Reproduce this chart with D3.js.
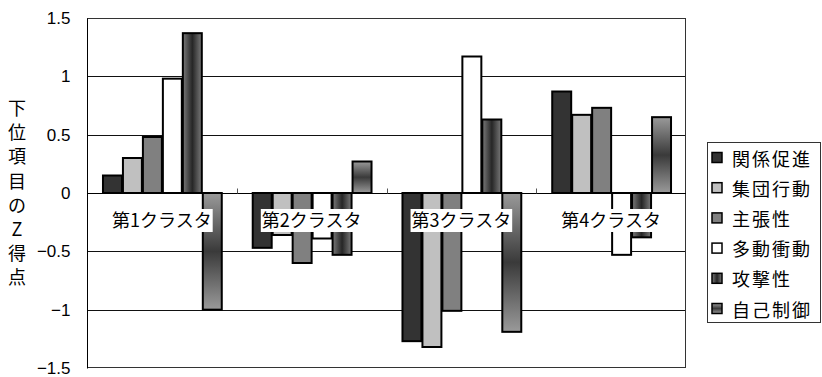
<!DOCTYPE html>
<html>
<head>
<meta charset="utf-8">
<script src="https://cdn.jsdelivr.net/npm/d3@7/dist/d3.min.js"></script>
<style>
  html, body { margin: 0; padding: 0; background: #fff; }
  svg { display: block; }
  text { font-family: "Noto Sans CJK JP", "Noto Sans", sans-serif; fill: #000; }
</style>
</head>
<body>
<svg id="chart" width="822" height="377"></svg>
<script>
// Clusters on the category axis
const clusters = ["第1クラスタ", "第2クラスタ", "第3クラスタ", "第4クラスタ"];
// Sub-scale names (legend order)
const seriesNames = ["関係促進", "集団行動", "主張性", "多動衝動", "攻撃性", "自己制御"];
// Mean Z score for each sub-scale, one array per sub-scale, by cluster
const relation   = [0.15, -0.47, -1.27, 0.87];
const groupAct   = [0.30, -0.36, -1.32, 0.67];
const assertive  = [0.48, -0.60, -1.01, 0.73];
const hyperact   = [0.98, -0.39,  1.17, -0.53];
const aggression = [1.37, -0.53,  0.63, -0.38];
const selfCtrl   = [-1.00, 0.27, -1.19, 0.65];
const seriesValues = [relation, groupAct, assertive, hyperact, aggression, selfCtrl];
// Value axis ticks
const yTicks = [1.5, 1, 0.5, 0, -0.5, -1, -1.5];
const yTitle = "下位項目のZ得点";

const svg = d3.select("#chart");
const plot = { left: 87, right: 686, top: 18, bottom: 368 };

const y = d3.scaleLinear().domain([-1.5, 1.5]).range([plot.bottom, plot.top]);
const x0 = d3.scaleBand().domain(clusters).range([plot.left, plot.right]).paddingInner(0).paddingOuter(0);
const x1 = d3.scaleBand().domain(seriesNames).range([0, x0.bandwidth()]).paddingInner(0).paddingOuter(0.75);

// Fills: flat grays plus two gradients
const defs = svg.append("defs");
const gH = defs.append("linearGradient").attr("id", "gradAgg").attr("x1", "0").attr("x2", "1").attr("y1", "0").attr("y2", "0");
gH.append("stop").attr("offset", "0%").attr("stop-color", "#7a7a7a");
gH.append("stop").attr("offset", "50%").attr("stop-color", "#262626");
gH.append("stop").attr("offset", "100%").attr("stop-color", "#7a7a7a");
const gV = defs.append("linearGradient").attr("id", "gradSelf").attr("x1", "0").attr("x2", "0").attr("y1", "0").attr("y2", "1");
gV.append("stop").attr("offset", "0%").attr("stop-color", "#9a9a9a");
gV.append("stop").attr("offset", "50%").attr("stop-color", "#3a3a3a");
gV.append("stop").attr("offset", "100%").attr("stop-color", "#9a9a9a");
const fills = ["#333333", "#c0c0c0", "#808080", "#ffffff", "url(#gradAgg)", "url(#gradSelf)"];

// Plot background
svg.append("rect").attr("x", plot.left).attr("y", plot.top)
  .attr("width", plot.right - plot.left).attr("height", plot.bottom - plot.top)
  .attr("fill", "#fff");

// Horizontal gridlines
svg.append("g").selectAll("line").data(yTicks.filter(v => v !== 0 && Math.abs(v) !== 1.5))
  .join("line")
  .attr("x1", plot.left).attr("x2", plot.right)
  .attr("y1", d => Math.round(y(d)) + 0.5).attr("y2", d => Math.round(y(d)) + 0.5)
  .attr("stroke", "#111").attr("stroke-width", 1);

// Plot border
svg.append("rect").attr("x", plot.left + 0.5).attr("y", plot.top + 0.5)
  .attr("width", plot.right - plot.left - 1).attr("height", plot.bottom - plot.top - 1)
  .attr("fill", "none").attr("stroke", "#333").attr("stroke-width", 1);

// Y axis labels
const yAxis = d3.axisLeft(y).tickValues(yTicks).tickSize(0).tickPadding(16.5)
  .tickFormat(d => d3.format("")(d).replace("-", "−"));
const yg = svg.append("g").attr("transform", `translate(${plot.left},0)`).call(yAxis);
yg.select(".domain").attr("stroke", "#000");
yg.selectAll("text").style("font-size", "17px")
  .style("font-family", "'Liberation Sans', Arial, sans-serif").attr("fill", "#000");

// Bars
const groups = svg.append("g").selectAll("g").data(seriesNames).join("g")
  .attr("fill", (d, i) => fills[i]);
groups.selectAll("rect")
  .data((name, si) => clusters.map((c, ci) => ({ c, name, v: seriesValues[si][ci] })))
  .join("rect")
  .attr("x", d => x0(d.c) + x1(d.name) + 1)
  .attr("width", x1.bandwidth() - 1)
  .attr("y", d => Math.min(y(d.v), y(0)))
  .attr("height", d => Math.abs(y(d.v) - y(0)))
  .attr("stroke", "#000").attr("stroke-width", 2);

// Category axis at zero with small tick marks between clusters
const zy = Math.round(y(0)) + 0.5;
svg.append("line").attr("x1", plot.left).attr("x2", plot.right).attr("y1", zy).attr("y2", zy)
  .attr("stroke", "#000").attr("stroke-width", 1);
svg.append("g").selectAll("line").data(clusters.slice(1)).join("line")
  .attr("x1", d => Math.round(x0(d)) + 0.5).attr("x2", d => Math.round(x0(d)) + 0.5)
  .attr("y1", zy).attr("y2", zy - 5).attr("stroke", "#555").attr("stroke-width", 1);

// Cluster labels on white boxes
const lab = svg.append("g").selectAll("g").data(clusters).join("g");
lab.append("rect").attr("fill", "#fff");
lab.append("text")
  .attr("x", d => x0(d) + x0.bandwidth() / 2)
  .attr("y", 227)
  .attr("text-anchor", "middle")
  .style("font-size", "18px")
  .text(d => d);
lab.each(function () {
  const t = d3.select(this).select("text").node().getBBox();
  d3.select(this).select("rect").attr("x", t.x - 1).attr("width", t.width + 2)
    .attr("y", 209).attr("height", 23);
});

// Vertical axis title, one character per line
svg.append("g").selectAll("text").data(Array.from(yTitle)).join("text")
  .attr("x", 17).attr("y", (d, i) => 107 + i * 24.2)
  .attr("text-anchor", "middle").attr("dominant-baseline", "central")
  .style("font-size", "18px")
  .text(d => d);

// Legend
const lg = svg.append("g").attr("transform", "translate(707,142)");
lg.append("rect").attr("x", 0.5).attr("y", 0.5).attr("width", 113).attr("height", 180)
  .attr("fill", "#fff").attr("stroke", "#333").attr("stroke-width", 1);
const items = lg.selectAll("g.item").data(seriesNames).join("g").attr("class", "item")
  .attr("transform", (d, i) => `translate(0,${15.5 + i * 30.2})`);
items.append("rect").attr("x", 5).attr("y", -5).attr("width", 10).attr("height", 10)
  .attr("fill", (d, i) => fills[i]).attr("stroke", "#000").attr("stroke-width", 1.5);
items.append("text").attr("x", 25).attr("y", 0).attr("dominant-baseline", "central")
  .style("font-size", "18px").style("letter-spacing", "2px")
  .text(d => d);
</script>
</body>
</html>
